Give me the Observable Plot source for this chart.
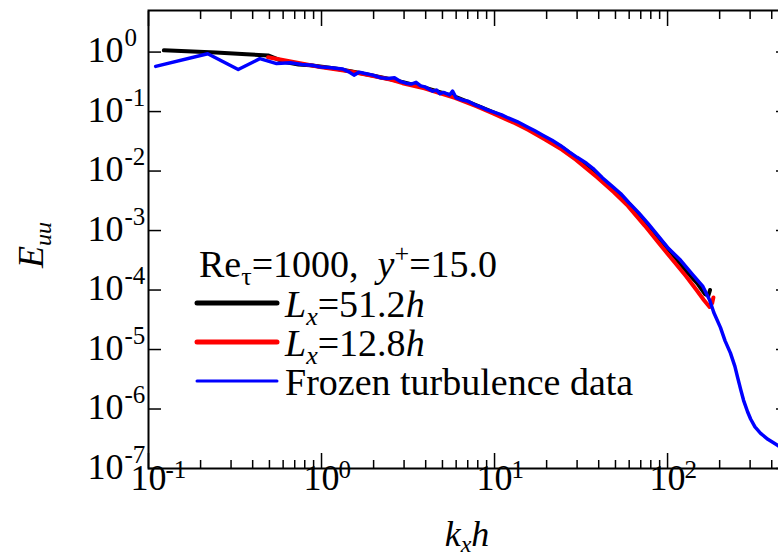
<!DOCTYPE html>
<html><head><meta charset="utf-8">
<script src="https://cdn.jsdelivr.net/npm/d3@7"></script>
<script src="https://cdn.jsdelivr.net/npm/@observablehq/plot@0.6"></script>
<style>body{margin:0;background:#fff}#chart{width:778px;height:559px}</style>
</head><body><div id="chart"></div>
<script>
// L_x = 51.2h (black)
const blackK = [0.1227,0.245,0.368,0.491,0.614,0.736,0.86,0.98,1.2,1.5,2,2.5,3,4,5,6,8,10,13,16,20,25,30,40,50,60,75,90,110,130,150,165,172,176];
const blackE = [1.07,0.98,0.92,0.88,0.68,0.62,0.60,0.57,0.53,0.47,0.40,0.35,0.31,0.25,0.205,0.175,0.125,0.095,0.068,0.05,0.035,0.024,0.016,0.0082,0.0046,0.0028,0.00135,0.00072,0.00036,0.0002,0.000125,0.000085,0.00008,0.0001];
// L_x = 12.8h (red)
const redK = [0.491,0.98,1.47,1.96,2.45,2.94,3.93,4.91,5.9,7.9,9.8,12.8,15.7,19.6,24.5,29.5,39.3,49,59,74,88,108,128,147,162,175,181,184];
const redE = [0.82,0.56,0.47,0.40,0.35,0.30,0.245,0.2,0.17,0.122,0.093,0.066,0.049,0.034,0.023,0.0155,0.0078,0.0044,0.0026,0.0012,0.00064,0.00031,0.00017,0.0001,0.000068,0.000052,0.00006,0.000075];
// Frozen turbulence data (blue)
const blueK = [0.11,0.22,0.33,0.44,0.55,0.66,0.77,0.88,0.99,1.1,1.32,1.43,1.54,1.65,1.76,1.98,2.2,2.42,2.64,2.86,3.08,3.3,3.52,3.74,3.96,4.4,4.62,4.84,5.06,5.5,5.72,6.0,6.6,7.0,7.7,8.3,9.0,9.9,11,12,13.5,15.5,17,19,21.5,24,27,30,34,37,42,47,53.5,60,68,77,88,100,119,140,160,175,185,202,215,231,245,254,265,275,290,302,320,345,380,432,480];
const blueE = [0.575,0.94,0.51,0.775,0.64,0.66,0.62,0.6,0.56,0.55,0.52,0.47,0.41,0.46,0.44,0.41,0.37,0.36,0.37,0.32,0.30,0.29,0.31,0.27,0.26,0.22,0.23,0.2,0.21,0.19,0.22,0.17,0.155,0.15,0.13,0.12,0.108,0.098,0.088,0.078,0.068,0.055,0.048,0.04,0.033,0.027,0.021,0.017,0.0135,0.0111,0.0077,0.0058,0.0042,0.0029,0.002,0.00132,0.00082,0.00052,0.000316,0.00018,0.000115,0.000068,0.000042,0.0000236,0.000014,0.0000087,0.0000052,0.0000034,0.0000021,0.0000014,9e-7,6.8e-7,5e-7,3.9e-7,3.1e-7,2.45e-7,2.0e-7];

const xMajor = [0.1,1,10,100];
const xExp = ["-1","0","1","2"];
const xMinor = [0.2,0.3,0.4,0.5,0.6,0.7,0.8,0.9,2,3,4,5,6,7,8,9,20,30,40,50,60,70,80,90,200,300,400];
const yMajor = [1e-7,1e-6,1e-5,1e-4,1e-3,1e-2,1e-1,1];
const yExp = ["-7","-6","-5","-4","-3","-2","-1","0"];

const legendNames = ["51.2","12.8","Frozen turbulence data"];
const legendColors = ["#000000","#ff0000","#0000ff"];

const toRows = (K, E) => K.map((k, i) => ({k, E: E[i]}));
const black = toRows(blackK, blackE), red = toRows(redK, redE), blue = toRows(blueK, blueE);
const FONT = "'Liberation Serif', 'Times New Roman', serif";

const plot = Plot.plot({
  width: 778, height: 559,
  marginLeft: 148, marginTop: 10, marginBottom: 91, marginRight: -10,
  x: {type: "log", domain: [0.1, 500]},
  y: {type: "log", domain: [1e-7, 5]},
  style: {fontFamily: FONT, color: "#000", background: "#fff", overflow: "hidden"},
  marks: [
    Plot.line(black, {x: "k", y: "E", stroke: "#000", strokeWidth: 4}),
    Plot.line(red, {x: "k", y: "E", stroke: "#ff0000", strokeWidth: 4}),
    Plot.line(blue, {x: "k", y: "E", stroke: "#0000ff", strokeWidth: 3.5}),
    Plot.frame({stroke: "#000", strokeWidth: 2}),
    Plot.axisX({anchor: "bottom", ticks: xMajor, tickSize: 15, dy: -15, tickFormat: () => "", label: null, strokeWidth: 1.5}),
    Plot.axisX({anchor: "bottom", ticks: xMinor, tickSize: 8, dy: -8, tickFormat: () => "", label: null, strokeWidth: 1.5}),
    Plot.axisX({anchor: "top", ticks: xMajor, tickSize: 15, dy: 15, tickFormat: () => "", label: null, strokeWidth: 1.5}),
    Plot.axisX({anchor: "top", ticks: xMinor, tickSize: 8, dy: 8, tickFormat: () => "", label: null, strokeWidth: 1.5}),
    Plot.axisY({anchor: "left", ticks: yMajor, tickSize: 13, dx: 13, tickFormat: () => "", label: null, strokeWidth: 1.5}),
    Plot.axisY({anchor: "right", ticks: yMajor, tickSize: 13, dx: -13, tickFormat: () => "", label: null, strokeWidth: 1.5}),
    Plot.text(xMajor, {x: d => d, frameAnchor: "bottom", text: () => "10", fontSize: 36, dy: 21.5, textAnchor: "middle", fill: "#000"}),
    Plot.text(xMajor, {x: d => d, frameAnchor: "bottom", text: (d, i) => xExp[i], fontSize: 25, dx: 17, dy: 9, textAnchor: "start", fill: "#000"}),
    Plot.text(yMajor, {y: d => d, frameAnchor: "left", text: () => "10", fontSize: 36, dx: -25, dy: -1.5, textAnchor: "end", fill: "#000"}),
    Plot.text(yMajor, {y: d => d, frameAnchor: "left", text: (d, i) => yExp[i], fontSize: 25, dx: -24, dy: -14, textAnchor: "start", fill: "#000"})
  ]
});

const svg = d3.select(plot);
const styled = (sel, size) => sel.style("font-family", FONT).style("font-size", size + "px").style("fill", "#000");
// axis titles
const xl = styled(svg.append("text"), 36).attr("x", 467).attr("y", 546).style("text-anchor", "middle").style("font-style", "italic");
xl.append("tspan").text("k");
xl.append("tspan").style("font-size", "24px").attr("dy", 6).text("x");
xl.append("tspan").attr("dy", -6).text("h");

const yl = styled(svg.append("text"), 36).attr("transform", "translate(43,245) rotate(-90)").style("text-anchor", "middle").style("font-style", "italic");
yl.append("tspan").text("E");
yl.append("tspan").style("font-size", "24px").attr("dy", 8).text("uu");

// legend
const LF = 38, SF = 26;
const lg = svg.append("g");
const t = styled(lg.append("text"), LF).attr("x", 199).attr("y", 277).style("text-anchor", "start");
t.append("tspan").text("Re");
t.append("tspan").style("font-size", SF + "px").attr("dy", 8).text("τ");
t.append("tspan").attr("dy", -8).text("=1000,  ");
t.append("tspan").style("font-style", "italic").text("y");
t.append("tspan").style("font-size", SF + "px").attr("dy", -15).text("+");
t.append("tspan").attr("dy", 15).text("=15.0");
const rowY = [303, 342, 381];
const rowW = [5, 5, 3];
legendNames.forEach((name, i) => {
  lg.append("line").attr("x1", 197).attr("x2", 277).attr("y1", rowY[i]).attr("y2", rowY[i])
    .attr("stroke", legendColors[i]).attr("stroke-width", rowW[i]).attr("stroke-linecap", "round");
  const tx = styled(lg.append("text"), LF).attr("x", 285).attr("y", rowY[i] + 14).style("text-anchor", "start");
  if (i < 2) {
    tx.append("tspan").style("font-style", "italic").text("L");
    tx.append("tspan").style("font-style", "italic").style("font-size", SF + "px").attr("dy", 8).text("x");
    tx.append("tspan").attr("dy", -8).text("=" + name);
    tx.append("tspan").style("font-style", "italic").text("h");
  } else {
    tx.text(name);
  }
});

document.getElementById("chart").appendChild(plot);
</script>
</body></html>
